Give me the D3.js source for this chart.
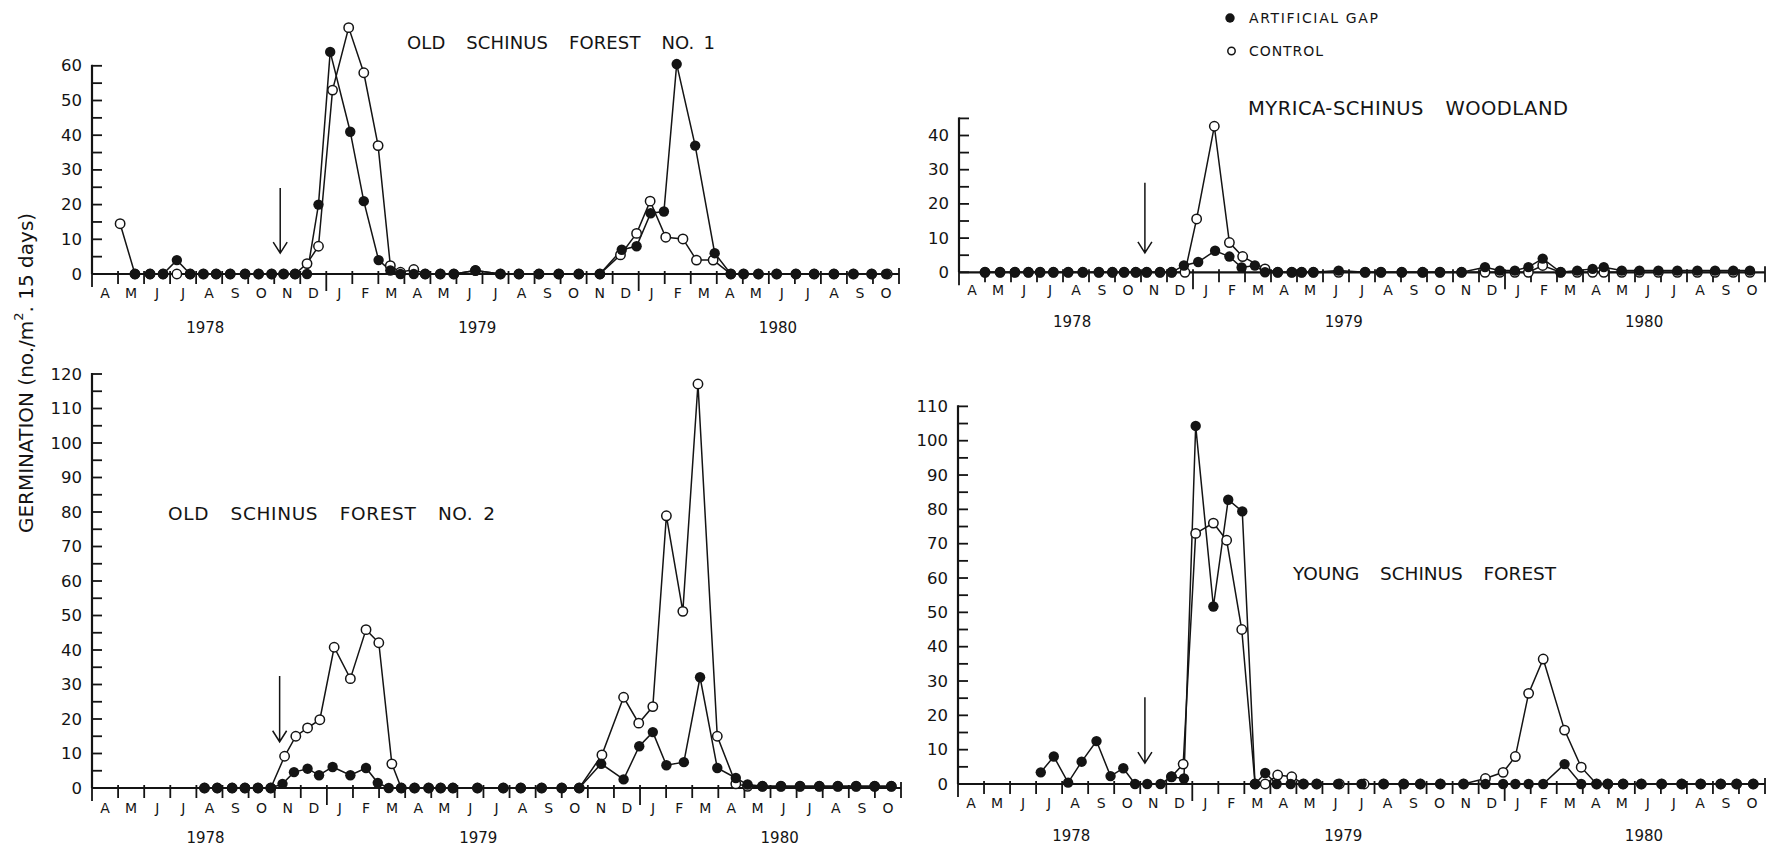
<!DOCTYPE html>
<html><head><meta charset="utf-8">
<script src="https://cdn.jsdelivr.net/npm/d3@7"></script>
<style>
body{margin:0;background:#fff;}
svg{display:block;}
text{font-family:"DejaVu Sans",sans-serif;fill:#141414;}
</style>
</head><body>
<svg id="chart" width="1767" height="847"></svg>
<script>
// ---------------- DATA ----------------
const months = ["A","M","J","J","A","S","O","N","D","J","F","M","A","M","J","J","A","S","O","N","D","J","F","M","A","M","J","J","A","S","O"];
const years = ["1978","1979","1980"];
const yearPos = [4.35, 14.8, 26.35];          // months since 1 Apr 1978
const yearBoundaries = [9, 21];
const seriesNames = ["ARTIFICIAL GAP", "CONTROL"];
const titles = ["OLD SCHINUS FOREST NO.\u20021", "MYRICA-SCHINUS WOODLAND", "OLD SCHINUS FOREST NO.\u20022", "YOUNG SCHINUS FOREST"];
const yAxisMax = [60, 45, 120, 110];
const arrowT = [7.23, 7.15, 7.19, 7.18];
const arrowTop = [24.8, 26.2, 32.5, 25.3];
const arrowBottom = [6, 5.7, 13.4, 6.1];

// Panel 1: Old Schinus Forest No. 1
const p1GapT = [1.65,2.23,2.73,3.26,3.77,4.28,4.77,5.31,5.88,6.4,6.9,7.36,7.8,8.26,8.7,9.15,9.92,10.44,11.01,11.46,11.85,12.36,12.8,13.38,13.9,14.73,15.69,16.4,17.17,17.93,18.7,19.51,20.35,20.92,21.46,21.97,22.46,23.17,23.92,24.54,25.03,25.6,26.3,27.04,27.74,28.5,29.25,29.95,30.5];
const p1GapV = [0,0,0,4, 0,0,0,0,0,0,0,0,0,0, 20,64,41,21,4,1, 0,0,0,0,0, 1, 0,0,0,0,0,0, 7,8,17.5,18,60.5,37,6, 0,0,0,0,0,0,0,0,0,0];
const p1CtlT = [1.08,1.65,2.23,2.73,3.26,3.77,4.28,4.77,5.31,5.88,6.4,6.9,7.36,7.8,8.26,8.7,9.24,9.86,10.44,10.99,11.46,11.85,12.36,12.8,13.38,13.9,14.73,15.69,16.4,17.17,17.93,18.7,19.51,20.3,20.92,21.44,22.04,22.7,23.22,23.86,24.54,25.03,25.6,26.3,27.04,27.74,28.5,29.25,29.95,30.55];
const p1CtlV = [14.5, 0,0,0,0,0,0,0,0,0,0,0,0,0, 3,8,53,71,58,37,2.4,0.5,1.3,0,0,0,1,0,0,0,0,0,0, 5.5,11.7,21,10.6,10.1,4,4, 0,0,0,0,0,0,0,0,0,0];

// Panel 2: Myrica-Schinus woodland
const p2GapT = [1.0,1.58,2.15,2.67,3.12,3.63,4.2,4.76,5.38,5.9,6.35,6.8,7.22,7.73,8.18,8.65,9.2,9.85,10.4,10.87,11.38,11.77,12.26,12.8,13.18,13.63,14.6,15.62,16.23,17.03,17.83,18.5,19.33,20.23,20.8,21.38,21.9,22.45,23.14,23.78,24.37,24.8,25.49,26.17,26.9,27.63,28.4,29.08,29.78,30.42];
const p2GapV = [0,0,0,0,0,0,0,0,0,0,0,0,0,0,0, 2,3,6.3,4.6,1.4,2,0,0,0,0,0, 0.5,0,0,0,0,0,0, 1.5,0.5,0.5,1.5,4,0,0.5,1,1.5,0.5, 0.5,0.5,0.5,0.5,0.5,0.5,0.5];
const p2CtlT = [1.0,1.58,2.15,2.67,3.12,3.63,4.2,4.76,5.38,5.9,6.35,6.8,7.22,7.73,8.18,8.69,9.14,9.82,10.4,10.91,11.77,12.26,12.8,13.18,13.63,14.6,15.62,16.23,17.03,17.83,18.5,19.33,20.23,20.8,21.38,21.9,22.45,23.14,23.78,24.37,24.8,25.49,26.17,26.9,27.63,28.4,29.08,29.78,30.42];
const p2CtlV = [0,0,0,0,0,0,0,0,0,0,0,0,0,0,0, 0,15.6,42.7,8.7,4.6,1, 0,0,0,0, 0,0,0,0,0,0,0, 0,0,0,0,2,0,0,0,0,0, 0,0,0,0,0,0,0];

// Panel 3: Old Schinus Forest No. 2
const p3GapT = [4.31,4.8,5.37,5.86,6.36,6.85,7.3,7.74,8.26,8.7,9.22,9.9,10.5,10.95,11.37,11.85,12.36,12.9,13.36,13.83,14.77,15.76,16.43,17.23,18.0,18.67,19.51,20.37,20.97,21.49,22.01,22.68,23.3,23.96,24.67,25.12,25.69,26.4,27.13,27.87,28.58,29.28,29.99,30.63];
const p3GapV = [0,0,0,0,0,0, 1.2,4.6,5.6,3.7,6.1,3.7,5.8,1.5, 0,0,0,0,0,0, 0,0,0,0,0,0, 7,2.5,12.1,16.2,6.6,7.5,32.1,5.8,2.9, 1,0.5,0.5,0.5,0.5,0.5,0.5,0.5,0.5];
const p3CtlT = [4.31,4.8,5.37,5.86,6.36,6.85,7.38,7.81,8.26,8.73,9.28,9.9,10.5,10.99,11.49,11.85,12.36,12.9,13.36,13.83,14.77,15.76,16.43,17.23,18.0,18.67,19.54,20.37,20.95,21.49,22.01,22.64,23.22,23.96,24.67,25.12,25.69,26.4,27.13,27.87,28.58,29.28,29.99,30.63];
const p3CtlV = [0,0,0,0,0,0, 9.2,15,17.4,19.8,40.8,31.7,45.9,42.1,7, 0, 0,0,0,0, 0,0,0,0,0,0, 9.6,26.3,18.8,23.6,78.9,51.2,117.1,15,1.2, 0.5,0.5,0.5,0.5,0.5,0.5,0.5,0.5,0.5];

// Panel 4: Young Schinus forest
const p4GapT = [3.18,3.68,4.23,4.75,5.32,5.86,6.35,6.8,7.27,7.78,8.2,8.68,9.13,9.81,10.38,10.92,11.41,11.8,12.24,12.78,13.27,13.78,14.6,15.5,16.35,17.12,17.76,18.53,19.42,20.26,20.94,21.41,21.92,22.48,23.3,23.94,24.53,24.96,25.55,26.25,27.03,27.8,28.53,29.3,29.91,30.55];
const p4GapV = [3.4,8,0.4,6.5,12.5,2.3,4.6,0,0,0, 2.1,1.6,104.3,51.7,82.8,79.4,0,3.2, 0,0,0,0, 0,0,0,0,0,0,0, 0,0,0,0,0,5.8,0, 0,0,0,0,0,0,0,0,0,0];
const p4CtlT = [8.2,8.65,9.13,9.81,10.32,10.9,11.41,11.8,12.28,12.82,13.27,13.78,14.65,15.6,16.35,17.12,17.76,18.53,19.42,20.26,20.94,21.41,21.92,22.48,23.3,23.94,24.53,24.96,25.55,26.25,27.03,27.8,28.53,29.3,29.91,30.55];
const p4CtlV = [2.1,5.8,73,76,71,45,0,0,2.6,2.1,0,0, 0,0,0,0,0,0,0, 1.6,3.4,8,26.4,36.4,15.7,4.9, 0,0,0,0,0,0,0,0,0,0];

// ---------------- LAYOUT ----------------
const layout = [
  {x0:92,  x1:899,  y0:274,   ppu:3.47,  monthY:293, yearY:328, tx:407,  ty:42,  tw:308, tfs:18},
  {x0:959, x1:1765, y0:272.3, ppu:3.42,  monthY:290, yearY:322, tx:1248, ty:108, tw:320, tfs:19.5},
  {x0:92,  x1:901,  y0:788,   ppu:3.45,  monthY:808, yearY:838, tx:168,  ty:513, tw:327, tfs:18.5},
  {x0:958, x1:1765, y0:784,   ppu:3.433, monthY:803, yearY:836, tx:1293, ty:573, tw:263, tfs:18.5}
];
const series = [
  [p1GapT,p1GapV,p1CtlT,p1CtlV],
  [p2GapT,p2GapV,p2CtlT,p2CtlV],
  [p3GapT,p3GapV,p3CtlT,p3CtlV],
  [p4GapT,p4GapV,p4CtlT,p4CtlV]
];

const svg = d3.select("#chart");
svg.append("rect").attr("width",1767).attr("height",847).attr("fill","#fff");
const ink = "#141414";

layout.forEach((L, i) => {
  const g = svg.append("g");
  const x = d3.scaleLinear().domain([0, months.length]).range([L.x0, L.x1]);
  const yMax = yAxisMax[i];
  const y = d3.scaleLinear().domain([0, yMax]).range([L.y0, L.y0 - yMax * L.ppu]);

  // y axis line
  g.append("line").attr("x1",L.x0).attr("x2",L.x0).attr("y1",y(0)).attr("y2",y(yMax)-1)
    .attr("stroke",ink).attr("stroke-width",2.2);
  const yt = d3.range(0, yMax + 0.01, 5);
  g.selectAll(".yt").data(yt).enter().append("line")
    .attr("x1",L.x0).attr("x2",L.x0+10).attr("y1",d=>y(d)).attr("y2",d=>y(d))
    .attr("stroke",ink).attr("stroke-width",1.8);
  g.selectAll(".yl").data(yt.filter(d=>d%10===0)).enter().append("text")
    .attr("x",L.x0-10).attr("y",d=>y(d)).attr("text-anchor","end")
    .attr("dominant-baseline","central").attr("font-size",16.5).text(d=>d);

  // x axis
  g.append("line").attr("x1",L.x0).attr("x2",L.x1).attr("y1",y(0)).attr("y2",y(0))
    .attr("stroke",ink).attr("stroke-width",2.2);
  const xt = d3.range(0, months.length + 1);
  g.selectAll(".xt").data(xt).enter().append("line")
    .attr("x1",d=>x(d)).attr("x2",d=>x(d))
    .attr("y1",d=> d===months.length ? y(0)-6 : y(0)-3)
    .attr("y2",d=> yearBoundaries.includes(d) ? y(0)+17 : (d===0 ? y(0)+13 : y(0)+10))
    .attr("stroke",ink).attr("stroke-width",1.8);
  g.selectAll(".ml").data(months).enter().append("text")
    .attr("x",(d,k)=>x(k+0.5)).attr("y",L.monthY).attr("text-anchor","middle")
    .attr("dominant-baseline","central").attr("font-size",14).text(d=>d);
  g.selectAll(".yr").data(years).enter().append("text")
    .attr("x",(d,k)=>x(yearPos[k])).attr("y",L.yearY).attr("text-anchor","middle")
    .attr("dominant-baseline","central").attr("font-size",15).text(d=>d);

  // title: fixed word gap, remaining width spread as letter spacing
  const t = g.append("text").attr("x",L.tx).attr("y",L.ty).attr("dominant-baseline","central")
    .attr("font-size",L.tfs).style("word-spacing","15px").text(titles[i]);
  const nat = t.node().getComputedTextLength();
  const nChars = titles[i].length;
  t.style("letter-spacing", ((L.tw - nat) / (nChars - 1)) + "px");

  // arrow
  const ax = x(arrowT[i]), aTop = y(arrowTop[i]), aBot = y(arrowBottom[i]);
  g.append("path").attr("d",`M${ax},${aTop}L${ax},${aBot}M${ax-7},${aBot-11}L${ax},${aBot}L${ax+7},${aBot-11}`)
    .attr("fill","none").attr("stroke",ink).attr("stroke-width",1.5);

  // data
  const [gt, gv, ct, cv] = series[i];
  const gapPts = gt.map((tt,k)=>({t:tt, v:gv[k]}));
  const ctlPts = ct.map((tt,k)=>({t:tt, v:cv[k]}));
  const line = d3.line().x(d=>x(d.t)).y(d=>y(d.v));
  g.append("path").datum(ctlPts).attr("d",line).attr("fill","none").attr("stroke",ink).attr("stroke-width",1.5);
  g.append("path").datum(gapPts).attr("d",line).attr("fill","none").attr("stroke",ink).attr("stroke-width",1.5);
  g.selectAll(".oc").data(ctlPts).enter().append("circle")
    .attr("cx",d=>x(d.t)).attr("cy",d=>y(d.v)).attr("r",4.7)
    .attr("fill","#fff").attr("stroke",ink).attr("stroke-width",1.5);
  g.selectAll(".fc").data(gapPts).enter().append("circle")
    .attr("cx",d=>x(d.t)).attr("cy",d=>y(d.v)).attr("r",5.2).attr("fill",ink);
});

// legend
const lg = svg.append("g");
lg.append("circle").attr("cx",1230).attr("cy",18).attr("r",4.7).attr("fill",ink);
lg.append("circle").attr("cx",1231.5).attr("cy",51).attr("r",3.7).attr("fill","#fff").attr("stroke",ink).attr("stroke-width",1.5);
lg.append("text").attr("x",1249).attr("y",18).attr("dominant-baseline","central").attr("font-size",14)
  .attr("textLength",129).attr("lengthAdjust","spacing").text(seriesNames[0]);
lg.append("text").attr("x",1249).attr("y",51).attr("dominant-baseline","central").attr("font-size",14)
  .attr("textLength",74).attr("lengthAdjust","spacing").text(seriesNames[1]);

// y-axis label
const yl = svg.append("text").attr("transform","translate(26,373) rotate(-90)")
  .attr("text-anchor","middle").attr("dominant-baseline","central").attr("font-size",20);
yl.append("tspan").text("GERMINATION (no./m");
yl.append("tspan").attr("font-size",13).attr("dy",-8).text("2");
yl.append("tspan").attr("dy",8).text(". 15 days)");
</script>
</body></html>
